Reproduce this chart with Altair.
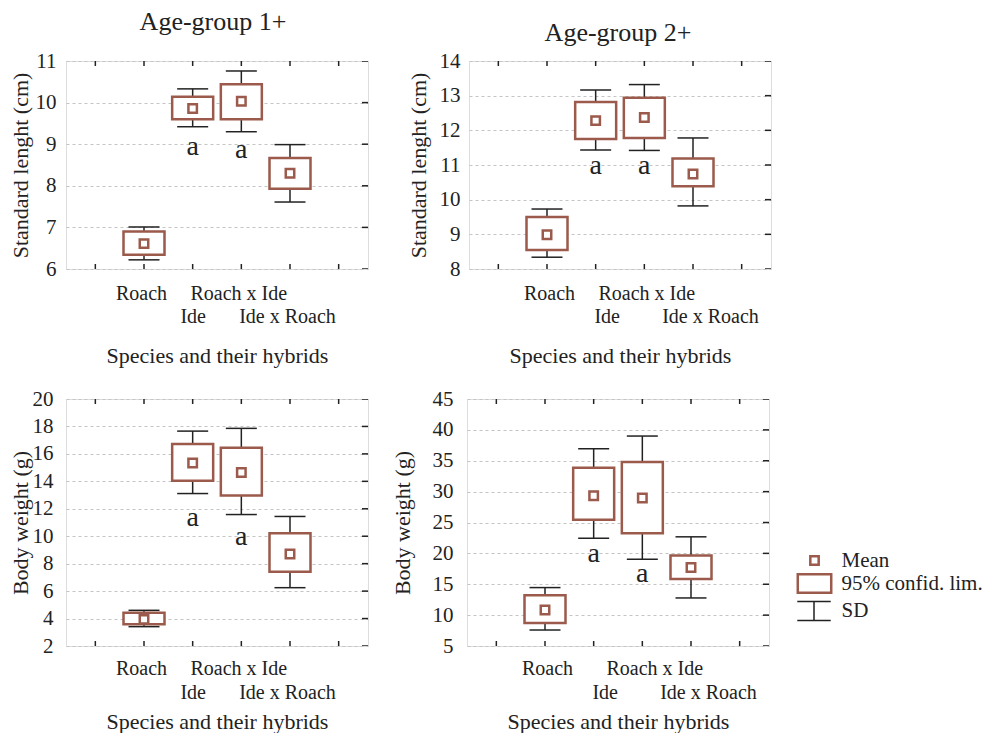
import altair as alt
import pandas as pd

FONT = "Liberation Serif"
BROWN = "#9b5a4b"
DARK = "#222222"

categories = ["Roach", "Ide", "Roach x Ide", "Ide x Roach"]
positions = [1, 2, 3, 4]
x_ticks = [0, 1, 2, 3, 4, 5]

# Age-group 1+, standard length (cm)
sl1_mean = [6.61, 9.86, 10.03, 8.30]
sl1_ci_lo = [6.34, 9.60, 9.60, 7.93]
sl1_ci_hi = [6.90, 10.14, 10.44, 8.67]
sl1_sd_lo = [6.22, 9.42, 9.30, 7.61]
sl1_sd_hi = [7.01, 10.33, 10.76, 8.99]
sl1_letter_y = [8.93, 8.87]

# Age-group 2+, standard length (cm)
sl2_mean = [8.99, 12.28, 12.37, 10.74]
sl2_ci_lo = [8.55, 11.75, 11.78, 10.39]
sl2_ci_hi = [9.50, 12.82, 12.94, 11.19]
sl2_sd_lo = [8.34, 11.43, 11.42, 9.82]
sl2_sd_hi = [9.73, 13.16, 13.32, 11.78]
sl2_letter_y = [10.98, 10.98]

# Age-group 1+, body weight (g)
bw1_mean = [3.94, 15.33, 14.65, 8.71]
bw1_ci_lo = [3.58, 14.04, 12.97, 7.42]
bw1_ci_hi = [4.43, 16.72, 16.45, 10.22]
bw1_sd_lo = [3.41, 13.11, 11.58, 6.25]
bw1_sd_hi = [4.60, 17.66, 17.86, 11.44]
bw1_letter_y = [11.36, 9.95]

# Age-group 2+, body weight (g)
bw2_mean = [10.84, 29.32, 28.95, 17.70]
bw2_ci_lo = [8.73, 25.43, 23.27, 15.86]
bw2_ci_hi = [13.22, 33.86, 34.78, 19.65]
bw2_sd_lo = [7.59, 22.46, 19.05, 12.78]
bw2_sd_hi = [14.46, 36.95, 39.00, 22.68]
bw2_letter_y = [19.86, 16.62]

letter_x = [2, 3]
letter_text = ["a", "a"]

# horizontal shift of each category label (px), as printed in the figure
shift_left_panels = [-3, 0, -3, -3]
shift_p2 = [2, 11, 2, 17]
shift_p4 = [2, 11, 12, 17]

legend_items = ["Mean", "95% confid. lim.", "SD"]
legend_shapes = [
    "M-0.38,-0.38H0.38V0.38H-0.38Z",
    "M-1.52,-0.84H1.52V0.84H-1.52Z",
    "M-1.52,-0.86H1.52M0,-0.86V0.86M-1.52,0.86H1.52",
]
legend_colors = [BROWN, BROWN, DARK]
legend_widths = [2.5, 2.5, 1.5]
legend_y = [149, 172, 200]
legend_label_offset = [14.5, 14.5, 15.5]

W = 302


def label_expr():
    parts = []
    for p, c in zip(positions, categories):
        parts.append(f"datum.value == {p} ? '{c}' : ")
    return "".join(parts) + "''"


def panel(mean, ci_lo, ci_hi, sd_lo, sd_hi, let_y, ydom, yticks, ytitle, H,
          title, title_offset, title_dx, title_dy, pad1, pad2, title_y, ytitle_x,
          ylabpad, shifts, legend=False):
    df = pd.DataFrame({"x": positions, "mean": mean, "ci_lo": ci_lo,
                       "ci_hi": ci_hi, "sd_lo": sd_lo, "sd_hi": sd_hi})
    let_df = pd.DataFrame({"x": letter_x, "y": let_y, "t": letter_text})
    xt_df = pd.DataFrame({"x": x_ticks})
    yt_df = pd.DataFrame({"y": yticks})

    offs = {"condition": [{"test": f"datum.value == {p}", "value": s}
                          for p, s in zip(positions, shifts)],
            "value": 0}
    xaxis = alt.Axis(
        values=x_ticks, labelExpr=label_expr(), ticks=False, tickSize=0,
        domain=False, grid=False, labelOverlap=False, labelFlush=False,
        labelBound=False, labelBaseline="middle",
        labelPadding={"condition": {"test": "datum.value % 2 == 0", "value": pad2},
                      "value": pad1},
        labelOffset=offs,
        labelFontSize=20, labelFont=FONT, labelColor=DARK,
        title="Species and their hybrids", titleFont=FONT, titleFontSize=22,
        titleFontWeight="normal", titleColor=DARK, titleY=title_y,
        titleBaseline="middle")
    yaxis = alt.Axis(
        values=yticks, grid=True, gridDash=[3, 3], gridColor="#c4c4c4",
        gridWidth=1, ticks=False, domain=False, labelFontSize=21,
        labelFont=FONT, labelColor=DARK, labelPadding=ylabpad,
        title=ytitle, titleFont=FONT, titleFontSize=22,
        titleFontWeight="normal", titleColor=DARK, titleX=ytitle_x,
        titleBaseline="middle")
    xs = alt.Scale(domain=[-0.5, 5.5], nice=False, zero=False)
    ys = alt.Scale(domain=ydom, nice=False, zero=False)
    X = alt.X("x:Q", scale=xs, axis=xaxis)

    def Y(f):
        return alt.Y(f"{f}:Q", scale=ys, axis=yaxis)

    base = alt.Chart(df)
    whisk = base.mark_rule(color=DARK, strokeWidth=1.5).encode(
        x=X, y=Y("sd_lo"), y2="sd_hi:Q")
    cap_lo = base.mark_tick(orient="horizontal", size=31, thickness=1.5,
                            color=DARK, opacity=1).encode(x=X, y=Y("sd_lo"))
    cap_hi = base.mark_tick(orient="horizontal", size=31, thickness=1.5,
                            color=DARK, opacity=1).encode(x=X, y=Y("sd_hi"))
    box = base.mark_bar(width=41, fill="white", stroke=BROWN,
                        strokeWidth=2.5, orient="vertical").encode(
        x=X, y=Y("ci_lo"), y2="ci_hi:Q")
    mpt = base.mark_point(shape="square", size=72, filled=False,
                          stroke=BROWN, strokeWidth=2.5, opacity=1).encode(
        x=X, y=Y("mean"))
    letters = alt.Chart(let_df).mark_text(
        font=FONT, fontSize=28, color=DARK, baseline="middle").encode(
        x=X, y=Y("y"), text="t:N")
    top_t = alt.Chart(xt_df).mark_tick(
        orient="vertical", size=10, thickness=1.5, color=DARK, clip=True,
        opacity=1).encode(x=X, y=alt.value(0))
    bot_t = alt.Chart(xt_df).mark_tick(
        orient="vertical", size=10, thickness=1.5, color=DARK, clip=True,
        opacity=1).encode(x=X, y=alt.value(H))
    right_t = alt.Chart(yt_df).mark_tick(
        orient="horizontal", size=12, thickness=1.5, color=DARK, clip=True,
        opacity=1).encode(x=alt.value(W), y=Y("y"))

    layers = [whisk, cap_lo, cap_hi, box, mpt, letters, top_t, bot_t, right_t]
    if legend:
        for item, shp, col, sw, ly, lo in zip(legend_items, legend_shapes, legend_colors,
                                              legend_widths, legend_y, legend_label_offset):
            leg_df = pd.DataFrame({"item": [item], "x": [-3], "y": [ydom[0]]})
            leg = alt.Chart(leg_df).mark_point(
                filled=False, clip=True, opacity=1, color=col, size=484,
                strokeWidth=sw).encode(
                x=X, y=Y("y"),
                shape=alt.Shape("item:N", scale=alt.Scale(domain=[item], range=[shp]),
                                legend=alt.Legend(
                                    orient="none", legendX=335, legendY=ly, title=None,
                                    labelFont=FONT, labelFontSize=21, labelColor=DARK,
                                    labelOffset=lo, padding=0, rowPadding=0,
                                    symbolSize=484, symbolStrokeWidth=sw,
                                    symbolStrokeColor=col, symbolFillColor="transparent",
                                    symbolOpacity=1, labelLimit=300)),
            )
            layers.append(leg)

    props = dict(width=W, height=H)
    if title:
        props["title"] = alt.TitleParams(title, font=FONT, fontSize=26, fontWeight="normal",
                                         color=DARK, offset=title_offset, frame="group",
                                         anchor="middle", dx=title_dx, dy=title_dy)
    ch = alt.layer(*layers).properties(**props)
    if legend:
        ch = ch.resolve_scale(shape="independent").resolve_legend(shape="independent")
    return ch


p1 = panel(sl1_mean, sl1_ci_lo, sl1_ci_hi, sl1_sd_lo, sl1_sd_hi, sl1_letter_y,
           [6, 11], [6, 7, 8, 9, 10, 11], "Standard lenght (cm)", 208,
           "Age-group 1+", 15, -4, 0, 24, 47, 86, -46, 10, shift_left_panels)
p2 = panel(sl2_mean, sl2_ci_lo, sl2_ci_hi, sl2_sd_lo, sl2_sd_hi, sl2_letter_y,
           [8, 14], [8, 9, 10, 11, 12, 13, 14], "Standard lenght (cm)", 208,
           "Age-group 2+", 4, -2, 0, 24, 47, 86, -51, 9, shift_p2)
p3 = panel(bw1_mean, bw1_ci_lo, bw1_ci_hi, bw1_sd_lo, bw1_sd_hi, bw1_letter_y,
           [2, 20], [2, 4, 6, 8, 10, 12, 14, 16, 18, 20], "Body weight (g)", 247,
           None, 0, 0, 0, 22, 46, 75, -46, 13, shift_left_panels)
p4 = panel(bw2_mean, bw2_ci_lo, bw2_ci_hi, bw2_sd_lo, bw2_sd_hi, bw2_letter_y,
           [5, 45], [5, 10, 15, 20, 25, 30, 35, 40, 45], "Body weight (g)", 247,
           None, 0, 0, 0, 22, 46, 75, -65, 14, shift_p4, legend=True)

row1 = alt.hconcat(p1, p2, spacing=37)
row2 = alt.hconcat(p3, p4, spacing=21).resolve_scale(shape="independent").resolve_legend(shape="independent")
chart = alt.vconcat(row1, row2, spacing=20).resolve_scale(shape="independent").resolve_legend(shape="independent").properties(
    padding={"left": 0, "top": 0, "right": 0, "bottom": 0}
).configure_view(stroke="#3a3a3a", strokeWidth=1.5).configure(background="white")

chart.save("out.html", embed_options={"renderer": "svg", "actions": False})
